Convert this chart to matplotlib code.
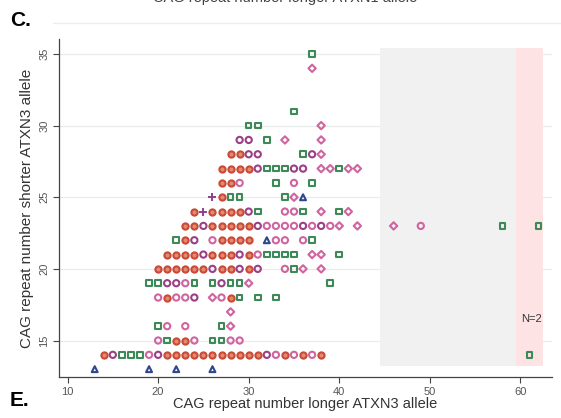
import matplotlib
matplotlib.use("Agg")
import matplotlib.pyplot as plt
from matplotlib.lines import Line2D

plt.rcParams['font.family'] = ['Liberation Sans', 'DejaVu Sans']

# shorter allele -> list of longer allele values, per marker group
red_pts = {14: [14, 21, 22, 23, 24, 25, 26, 27, 28, 29, 30, 31, 34, 36, 38],
           15: [22, 23], 18: [21, 28],
           20: [20, 21, 22, 23, 24, 25, 27, 28, 30],
           21: [21, 22, 23, 24, 26, 27, 28, 30],
           22: [23, 27, 28, 29, 30],
           23: [23, 24, 26, 27, 28, 29, 30],
           24: [24, 26, 27, 28, 29], 25: [27], 26: [27, 28],
           27: [27, 28, 29, 30], 28: [28, 29]}
purple_pts = {14: [15, 20, 32], 18: [24], 19: [21, 22, 27], 20: [26, 29, 31],
              21: [25, 29], 22: [24], 23: [25, 31, 36, 38], 24: [30],
              27: [31, 35, 36], 28: [30, 31, 37], 29: [29, 30]}
pink_pts = {14: [19, 33, 35, 37], 15: [20, 24, 28, 29], 16: [21, 23],
            18: [20, 22, 23, 27], 19: [23], 20: [34], 21: [31],
            22: [26, 33, 34, 36], 23: [32, 33, 34, 35, 37, 39, 49],
            24: [34, 35], 26: [29, 35]}
diamond_pts = {16: [28], 17: [28], 18: [26], 19: [30], 20: [36, 38],
               21: [37, 38], 23: [40, 42, 46], 24: [38, 41], 25: [35],
               27: [38, 39, 41, 42], 28: [38], 29: [34, 38], 30: [38], 34: [37]}
green_pts = {14: [16, 17, 18, 61], 15: [21, 26, 27], 16: [20, 27],
             18: [29, 31, 33], 19: [19, 20, 24, 26, 28, 29, 39], 20: [35],
             21: [32, 33, 34, 35, 40], 22: [22, 37], 23: [58, 62],
             24: [31, 36, 40], 25: [28, 29, 34], 26: [33, 37],
             27: [32, 33, 34, 40], 28: [36], 29: [32], 30: [30, 31],
             31: [35], 35: [37]}
blue_pts = {13: [13, 19, 22, 26], 22: [32], 25: [36]}
cross_pts = {24: [25], 25: [26]}

# (points, marker, edge colour, fill colour, size)
groups = [
    (red_pts, 'o', '#c94a36', '#e28a72', 20),
    (purple_pts, 'o', '#9b3f87', 'none', 20),
    (pink_pts, 'o', '#d0649f', 'none', 20),
    (diamond_pts, 'D', '#d0649f', 'none', 14),
    (green_pts, 's', '#3d8a58', 'none', 16),
    (blue_pts, '^', '#2f4590', 'none', 18),
]


def flatten(pts):
    xs, ys = [], []
    for y, row in pts.items():
        xs += row
        ys += [y] * len(row)
    return xs, ys


fig = plt.figure(figsize=(5.61, 4.18), dpi=100)
ax = fig.add_axes([0.1052, 0.098, 0.879, 0.8088])

ax.set_xlim(9.06, 63.5)
ax.set_ylim(12.45, 36.05)

# shaded ranges
ax.fill_between([44.5, 59.5], 13.2, 35.4, color='#f1f1f1', zorder=1, lw=0)
ax.fill_between([59.5, 62.5], 13.2, 35.4, color='#fde3e4', zorder=1, lw=0)

for y in [15, 20, 25, 30, 35]:
    ax.axhline(y, color='#e9ecec', lw=0.9, zorder=0)

for pts, mk, col, fill, size in groups:
    xs, ys = flatten(pts)
    ax.scatter(xs, ys, marker=mk, s=size, facecolors=fill,
               edgecolors=col, linewidths=1.5, zorder=3)

xs, ys = flatten(cross_pts)
ax.scatter(xs, ys, marker='+', s=32, color='#8e3f96', linewidths=1.4, zorder=3)

ax.text(61.2, 16.5, 'N=2', fontsize=8, ha='center', va='center', color='#333333')

for s in ['top', 'right']:
    ax.spines[s].set_visible(False)
for s in ['left', 'bottom']:
    ax.spines[s].set_color('#444444')
    ax.spines[s].set_linewidth(0.9)

ax.set_xticks([10, 20, 30, 40, 50, 60])
ax.set_yticks([15, 20, 25, 30, 35])
ax.tick_params(axis='both', length=4, width=0.8, color='#444444',
               labelsize=8, labelcolor='#555555', pad=3)
for lab in ax.get_yticklabels():
    lab.set_rotation(90)
    lab.set_va('center')

ax.set_xlabel('CAG repeat number longer ATXN3 allele', fontsize=10.5,
              color='#333333', labelpad=0)
ax.set_ylabel('CAG repeat number shorter ATXN3 allele', fontsize=11,
              color='#333333', labelpad=4)

# panel labels and the title of the panel above
fig.text(0.508, 1.004, 'CAG repeat number longer ATXN1 allele', fontsize=10.5,
         ha='center', va='center', color='#444444')
fig.add_artist(Line2D([0.094, 1.0], [0.945, 0.945], color='#e8eeee', lw=0.9))
fig.text(0.018, 0.951, 'C.', fontsize=15, fontweight='bold', va='center')
fig.text(0.018, 0.042, 'E.', fontsize=15, fontweight='bold', va='center')

fig.savefig('out.png', dpi=100)
